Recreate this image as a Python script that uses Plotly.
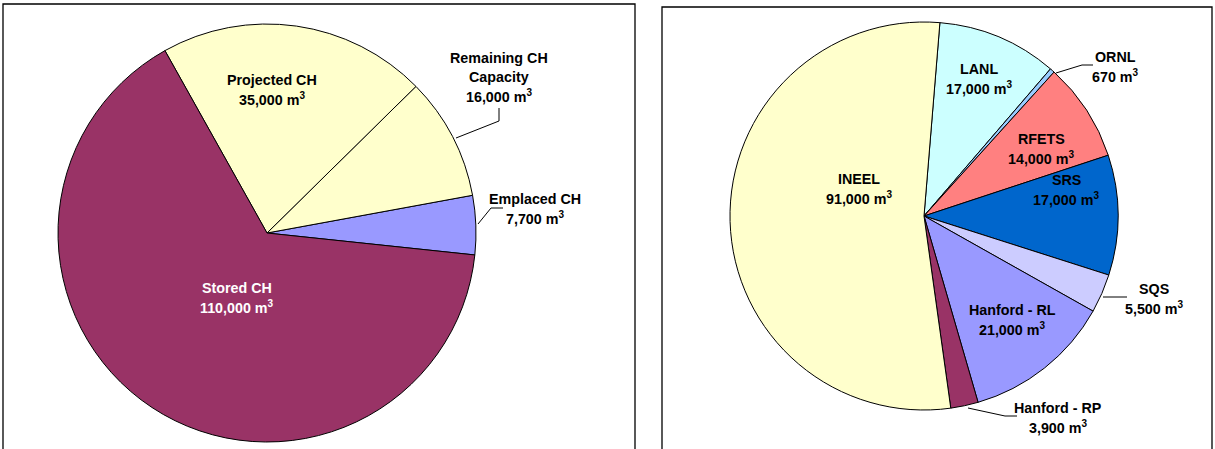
import plotly.graph_objects as go

W, H = 1215, 449

# ---- data ----
left_labels = ["Emplaced CH", "Remaining CH Capacity", "Projected CH", "Stored CH"]
left_values = [7700, 16000, 35000, 110000]
left_colors = ["#9999FF", "#FFFFCC", "#FFFFCC", "#993366"]

right_labels = ["LANL", "ORNL", "RFETS", "SRS", "SQS", "Hanford - RL", "Hanford - RP", "INEEL"]
right_values = [17000, 670, 14000, 17000, 5500, 21000, 3900, 91000]
right_colors = ["#CCFFFF", "#99CCFF", "#FF8080", "#0066CC", "#CCCCFF", "#9999FF", "#993366", "#FFFFCC"]

# label text lines (name lines, value text)
left_text = {
    "Emplaced CH": (["Emplaced CH"], "7,700"),
    "Remaining CH Capacity": (["Remaining CH", "Capacity"], "16,000"),
    "Projected CH": (["Projected CH"], "35,000"),
    "Stored CH": (["Stored CH"], "110,000"),
}
right_text = {
    "LANL": (["LANL"], "17,000"),
    "ORNL": (["ORNL"], "670"),
    "RFETS": (["RFETS"], "14,000"),
    "SRS": (["SRS"], "17,000"),
    "SQS": (["SQS"], "5,500"),
    "Hanford - RL": (["Hanford - RL"], "21,000"),
    "Hanford - RP": (["Hanford - RP"], "3,900"),
    "INEEL": (["INEEL"], "91,000"),
}

# ---- layout / style (window pixel positions) ----
label_pos = {  # center x, y of first line (px)
    "Emplaced CH": (535, 199, "#000000"),
    "Remaining CH Capacity": (499, 58, "#000000"),
    "Projected CH": (272, 80, "#000000"),
    "Stored CH": (237, 288, "#FFFFFF"),
    "LANL": (979, 69, "#000000"),
    "ORNL": (1115, 57, "#000000"),
    "RFETS": (1041, 139, "#000000"),
    "SRS": (1066, 180, "#000000"),
    "SQS": (1154, 289, "#000000"),
    "Hanford - RL": (1012, 310, "#000000"),
    "Hanford - RP": (1058, 408, "#000000"),
    "INEEL": (859, 179, "#000000"),
}
leaders = [
    [(456, 138), (499, 121), (499, 108)],
    [(478, 224), (491, 208), (503, 208)],
    [(1056, 73), (1082, 65), (1093, 65)],
    [(1103, 297), (1127, 297)],
    [(968, 408), (1005, 416), (1017, 416)],
]
LINE = 19
FONT = "Liberation Sans, Arial, sans-serif"
FSIZE = 14.3


def px(x, y):
    return x / W, 1 - y / H


def dom(cx, cy, r):
    x0, y1 = px(cx - r, cy - r)
    x1, y0 = px(cx + r, cy + r)
    return dict(x=[x0, x1], y=[y0, y1])


fig = go.Figure()
fig.add_trace(go.Pie(
    labels=left_labels, values=left_values, sort=False, direction="counterclockwise",
    rotation=79.6, textinfo="none", hoverinfo="label+value",
    marker=dict(colors=left_colors, line=dict(color="#000000", width=1)),
    domain=dom(267, 233, 209), showlegend=False,
))
fig.add_trace(go.Pie(
    labels=right_labels, values=right_values, sort=False, direction="clockwise",
    rotation=4.7, textinfo="none", hoverinfo="label+value",
    marker=dict(colors=right_colors, line=dict(color="#000000", width=1)),
    domain=dom(924, 216, 194), showlegend=False,
))

annotations = []
for texts in (left_text, right_text):
    for key, (names, val) in texts.items():
        cx, cy, col = label_pos[key]
        lines = [f"<b>{n}</b>" for n in names] + [f"<b>{val} m<sup>3</sup></b>"]
        for i, t in enumerate(lines):
            x, y = px(cx, cy + i * LINE)
            annotations.append(dict(x=x, y=y, xref="paper", yref="paper", text=t,
                                    showarrow=False, xanchor="center", yanchor="middle",
                                    font=dict(family=FONT, size=FSIZE, color=col)))

shapes = []
# frames
for (x0, y0, x1) in [(3, 4, 635), (662, 7, 1212)]:
    a = px(x0, y0)
    b = px(x1, 470)
    shapes.append(dict(type="rect", xref="paper", yref="paper", x0=a[0], y0=a[1], x1=b[0], y1=b[1],
                       line=dict(color="#000000", width=1.3), fillcolor="rgba(0,0,0,0)", layer="below"))
for pts in leaders:
    path = "M " + " L ".join("{},{}".format(*px(x, y)) for x, y in pts)
    shapes.append(dict(type="path", xref="paper", yref="paper", path=path,
                       line=dict(color="#000000", width=1)))

fig.update_layout(width=W, height=H, margin=dict(l=0, r=0, t=0, b=0),
                  paper_bgcolor="#FFFFFF", plot_bgcolor="#FFFFFF",
                  annotations=annotations, shapes=shapes, showlegend=False)
fig.write_html("out.html", config={"displayModeBar": False},
               post_script="document.body.style.margin='0';document.body.style.overflow='hidden';")
